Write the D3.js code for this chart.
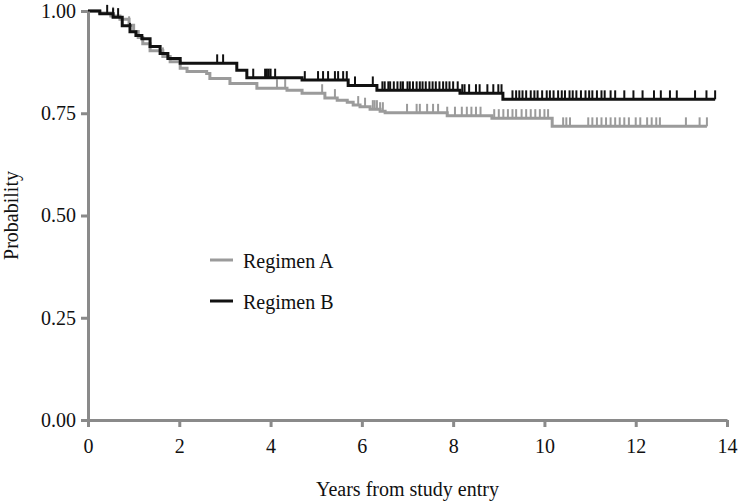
<!DOCTYPE html>
<html>
<head>
<meta charset="utf-8">
<script src="https://cdn.jsdelivr.net/npm/d3@7"></script>
<style>
  body { margin: 0; background: #fff; }
  text { font-family: "Liberation Serif", "Times New Roman", serif; fill: #111; }
</style>
</head>
<body>
<div id="chart"></div>
<script>
// Kaplan-Meier step data
const timesA = [0, 0.25, 0.5, 0.7, 0.9, 1.0, 1.1, 1.2, 1.36, 1.64, 1.8, 2.02, 2.17, 2.6, 2.67, 3.11, 3.7, 4.36, 4.69, 5.19, 5.46, 5.68, 5.81, 5.96, 6.18, 6.4, 6.51, 7.87, 8.85, 10.17];
const survA = [1.0, 0.995, 0.988, 0.98, 0.965, 0.95, 0.935, 0.92, 0.903, 0.889, 0.876, 0.86, 0.852, 0.847, 0.835, 0.823, 0.811, 0.806, 0.799, 0.787, 0.782, 0.777, 0.77, 0.766, 0.76, 0.755, 0.751, 0.744, 0.738, 0.718];
const endA = 13.56;
const censorA = [0.55, 0.9, 1.64, 4.14, 4.32, 5.13, 5.41, 5.92, 6.07, 6.24, 6.28, 6.33, 6.4, 6.46, 6.99, 7.2, 7.27, 7.43, 7.56, 7.67, 7.87, 8.04, 8.19, 8.3, 8.4, 8.5, 8.6, 8.9, 9.0, 9.1, 9.2, 9.3, 9.38, 9.5, 9.6, 9.7, 9.8, 9.9, 10.0, 10.08, 10.41, 10.48, 10.56, 10.96, 11.05, 11.15, 11.25, 11.35, 11.45, 11.55, 11.65, 11.75, 11.85, 12.0, 12.1, 12.25, 12.35, 12.45, 12.53, 13.1, 13.4, 13.56];

const timesB = [0, 0.26, 0.55, 0.75, 0.92, 1.05, 1.18, 1.36, 1.58, 1.75, 2.02, 3.26, 3.48, 4.69, 5.7, 6.33, 8.15, 9.09];
const survB = [1.0, 0.993, 0.985, 0.964, 0.949, 0.94, 0.932, 0.913, 0.896, 0.884, 0.872, 0.855, 0.837, 0.831, 0.818, 0.806, 0.799, 0.784];
const endB = 13.74;
const censorB = [0.42, 0.55, 0.66, 0.92, 2.83, 2.96, 3.62, 3.88, 3.92, 3.96, 4.0, 4.1, 4.75, 5.04, 5.15, 5.26, 5.41, 5.48, 5.59, 5.67, 5.85, 6.24, 6.45, 6.5, 6.58, 6.62, 6.7, 6.78, 6.85, 6.9, 7.0, 7.05, 7.12, 7.2, 7.27, 7.33, 7.4, 7.48, 7.55, 7.62, 7.7, 7.78, 7.85, 7.92, 8.0, 8.1, 8.2, 8.25, 8.35, 8.5, 8.58, 8.75, 8.88, 8.99, 9.06, 9.3, 9.38, 9.45, 9.52, 9.6, 9.7, 9.78, 9.85, 9.95, 10.05, 10.12, 10.2, 10.3, 10.38, 10.45, 10.55, 10.62, 10.7, 10.8, 10.9, 10.98, 11.05, 11.15, 11.25, 11.32, 11.45, 11.55, 11.75, 11.95, 12.15, 12.4, 12.55, 12.75, 12.9, 13.3, 13.55, 13.74];

const xTicks = [0, 2, 4, 6, 8, 10, 12, 14];
const yTicks = [0, 0.25, 0.5, 0.75, 1.0];

const series = [
  { name: "Regimen A", times: timesA, surv: survA, end: endA, censor: censorA, color: "#9b9b9b" },
  { name: "Regimen B", times: timesB, surv: survB, end: endB, censor: censorB, color: "#111111" }
];

const W = 740, H = 501;
const margin = { top: 11, right: 13, bottom: 81, left: 88 };
const width = W - margin.left - margin.right;
const height = H - margin.top - margin.bottom;

const svg = d3.select("#chart").append("svg")
  .attr("width", W).attr("height", H);
const g = svg.append("g").attr("transform", `translate(${margin.left},${margin.top})`);

const x = d3.scaleLinear().domain([0, 14]).range([0, width]);
const y = d3.scaleLinear().domain([0, 1]).range([height, 0]);

// step value at time t
function stepAt(s, t) {
  let v = s.surv[0];
  for (let i = 0; i < s.times.length; i++) if (s.times[i] <= t) v = s.surv[i];
  return v;
}

const line = d3.line().x(d => x(d[0])).y(d => y(d[1])).curve(d3.curveStepAfter);

series.forEach(s => {
  const pts = s.times.map((t, i) => [t, s.surv[i]]);
  pts.push([s.end, s.surv[s.surv.length - 1]]);
  g.append("path").datum(pts)
    .attr("d", line)
    .attr("fill", "none")
    .attr("stroke", s.color)
    .attr("stroke-width", 3);
  g.append("g").selectAll("line").data(s.censor).enter().append("line")
    .attr("x1", d => x(d)).attr("x2", d => x(d))
    .attr("y1", d => y(stepAt(s, d)))
    .attr("y2", d => y(stepAt(s, d)) - 9)
    .attr("stroke", s.color)
    .attr("stroke-width", 2);
});

// axes
const axisColor = "#8a8a8a";
const xAxis = g.append("g").attr("transform", `translate(0,${height})`)
  .call(d3.axisBottom(x).tickValues(xTicks).tickFormat(d3.format("d")).tickSize(7).tickSizeOuter(0).tickPadding(12));
const yAxis = g.append("g")
  .call(d3.axisLeft(y).tickValues(yTicks).tickFormat(d3.format(".2f")).tickSize(7).tickSizeOuter(0).tickPadding(5));
[xAxis, yAxis].forEach(a => {
  a.select(".domain").attr("stroke", axisColor).attr("stroke-width", 3);
  a.selectAll(".tick line").attr("stroke", axisColor).attr("stroke-width", 3);
  a.selectAll(".tick text").style("font-size", "20px").attr("fill", "#111")
    .style("font-family", '"Liberation Serif", serif');
});

g.append("text")
  .attr("x", width / 2).attr("y", height + 76)
  .attr("text-anchor", "middle")
  .style("font-size", "20px")
  .text("Years from study entry");

g.append("text")
  .attr("transform", `translate(${-70},${height / 2}) rotate(-90)`)
  .attr("text-anchor", "middle")
  .style("font-size", "20px")
  .text("Probability");

// legend
const legend = svg.append("g").attr("transform", "translate(210,260)");
series.forEach((s, i) => {
  const row = legend.append("g").attr("transform", `translate(0,${i * 41})`);
  row.append("line").attr("x1", 0).attr("x2", 23).attr("y1", 0).attr("y2", 0)
    .attr("stroke", s.color).attr("stroke-width", 3);
  row.append("text").attr("x", 33).attr("y", 8)
    .style("font-size", "20px").text(s.name);
});
</script>
</body>
</html>
